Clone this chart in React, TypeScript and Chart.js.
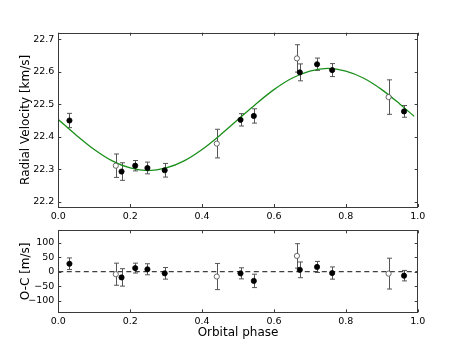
import React, { useEffect, useRef } from "react";
import { Chart, registerables } from "chart.js";
Chart.register(...registerables);

// ---- data ----
const phaseTicks = [0, 0.2, 0.4, 0.6, 0.8, 1.0];
const rvTicks = [22.2, 22.3, 22.4, 22.5, 22.6, 22.7];
const ocTicks = [-100, -50, 0, 50, 100];

const phaseFilled = [0.031, 0.176, 0.214, 0.248, 0.296, 0.507, 0.544, 0.672, 0.72, 0.762, 0.962];
const rvFilled = [22.45, 22.293, 22.311, 22.304, 22.297, 22.452, 22.464, 22.598, 22.623, 22.605, 22.478];
const rvFilledErr = [0.022, 0.027, 0.016, 0.018, 0.021, 0.019, 0.022, 0.026, 0.019, 0.02, 0.018];
const ocFilled = [27, -20, 12, 8, -6, -6, -32, 6, 16, -5, -14];
const ocFilledErr = [20, 30, 17, 19, 20, 19, 23, 27, 19, 21, 18];

const phaseOpen = [0.16, 0.441, 0.664, 0.919];
const rvOpen = [22.311, 22.379, 22.641, 22.522];
const rvOpenErr = [0.036, 0.044, 0.042, 0.053];
const ocOpen = [-9, -17, 54, -7];
const ocOpenErr = [38, 45, 42, 53];

const modelPhase = [0, 0.05, 0.1, 0.15, 0.2, 0.25, 0.3, 0.35, 0.4, 0.45, 0.5, 0.55, 0.6, 0.65, 0.7, 0.75, 0.8, 0.85, 0.9, 0.95, 0.99];
const modelRv = [22.453, 22.405, 22.361, 22.326, 22.304, 22.296, 22.304, 22.326, 22.361, 22.405, 22.453, 22.501, 22.545, 22.58, 22.602, 22.61, 22.602, 22.58, 22.545, 22.501, 22.463];

const zeroPhase = [0, 1];
const zeroOc = [0, 0];

const rvRange = [22.184, 22.72];
const ocRange = [-140, 142];

const FONT = "'DejaVu Sans', 'Liberation Sans', sans-serif";

const pts = (xs: number[], ys: number[]) => xs.map((x, i) => ({ x, y: ys[i] }));

const errorBarPlugin = {
  id: "errorBars",
  beforeDatasetsDraw(chart: any) {
    const ctx = chart.ctx;
    const xs = chart.scales.x;
    const ys = chart.scales.y;
    chart.data.datasets.forEach((ds: any) => {
      const errs = ds.errors;
      if (!errs) return;
      ctx.save();
      ctx.strokeStyle = "#555";
      ctx.lineWidth = 1;
      ds.data.forEach((p: any, j: number) => {
        const x = Math.round(xs.getPixelForValue(p.x)) + 0.5;
        const y1 = ys.getPixelForValue(p.y + errs[j]);
        const y2 = ys.getPixelForValue(p.y - errs[j]);
        ctx.beginPath();
        ctx.moveTo(x, y1);
        ctx.lineTo(x, y2);
        ctx.moveTo(x - 2.5, y1);
        ctx.lineTo(x + 2.5, y1);
        ctx.moveTo(x - 2.5, y2);
        ctx.lineTo(x + 2.5, y2);
        ctx.stroke();
      });
      ctx.restore();
    });
  },
};

const framePlugin = {
  id: "frame",
  afterDatasetsDraw(chart: any) {
    const { ctx, chartArea: a, scales } = chart;
    ctx.save();
    ctx.strokeStyle = "#3a3a3a";
    ctx.lineWidth = 1;
    const L = 3;
    ctx.beginPath();
    scales.x.ticks.forEach((t: any) => {
      const x = Math.round(scales.x.getPixelForValue(t.value)) + 0.5;
      ctx.moveTo(x, a.bottom);
      ctx.lineTo(x, a.bottom - L);
      ctx.moveTo(x, a.top);
      ctx.lineTo(x, a.top + L);
    });
    scales.y.ticks.forEach((t: any) => {
      const y = Math.round(scales.y.getPixelForValue(t.value)) + 0.5;
      ctx.moveTo(a.left, y);
      ctx.lineTo(a.left + L, y);
      ctx.moveTo(a.right, y);
      ctx.lineTo(a.right - L, y);
    });
    ctx.stroke();
    ctx.strokeRect(Math.round(a.left) + 0.5, Math.round(a.top) + 0.5, Math.round(a.right - a.left), Math.round(a.bottom - a.top));
    ctx.restore();
  },
};

function xScale(showTitle: boolean, height: number) {
  return {
    type: "linear",
    min: 0,
    max: 1,
    afterBuildTicks: (s: any) => {
      s.ticks = phaseTicks.map((v) => ({ value: v }));
    },
    afterFit: (s: any) => {
      s.height = height;
    },
    grid: { display: false, drawTicks: false },
    border: { display: false },
    ticks: {
      color: "#000",
      font: { family: FONT, size: 9.5 },
      padding: 4,
      maxRotation: 0,
      autoSkip: false,
      callback: (v: any) => Number(v).toFixed(1),
    },
    title: {
      display: showTitle,
      text: "Orbital phase",
      color: "#000",
      font: { family: FONT, size: 12 },
      padding: { top: 0, bottom: 9 },
    },
  };
}

function yScale(title: string, range: number[], tickVals: number[], fmt: (v: number) => string) {
  return {
    type: "linear",
    min: range[0],
    max: range[1],
    afterBuildTicks: (s: any) => {
      s.ticks = tickVals.map((v) => ({ value: v }));
    },
    afterFit: (s: any) => {
      s.width = 58.3;
    },
    grid: { display: false, drawTicks: false },
    border: { display: false },
    ticks: {
      color: "#000",
      font: { family: FONT, size: 9.5 },
      padding: 4,
      autoSkip: false,
      callback: (v: any) => fmt(Number(v)),
    },
    title: {
      display: true,
      text: title,
      color: "#000",
      font: { family: FONT, size: 12 },
      padding: { top: 18.5, bottom: 0 },
    },
  };
}

const filledStyle = {
  showLine: false,
  pointRadius: 2.6,
  pointBackgroundColor: "#000",
  pointBorderColor: "#000",
  pointBorderWidth: 0.8,
};
const openStyle = {
  showLine: false,
  pointRadius: 2.6,
  pointBackgroundColor: "#fff",
  pointBorderColor: "#444",
  pointBorderWidth: 0.8,
};

export default function App() {
  const topRef = useRef<HTMLCanvasElement | null>(null);
  const botRef = useRef<HTMLCanvasElement | null>(null);

  useEffect(() => {
    Chart.defaults.font.family = FONT;
    const top = new Chart(topRef.current as HTMLCanvasElement, {
      type: "scatter",
      data: {
        datasets: [
          { ...filledStyle, data: pts(phaseFilled, rvFilled), errors: rvFilledErr } as any,
          { ...openStyle, data: pts(phaseOpen, rvOpen), errors: rvOpenErr } as any,
          {
            data: pts(modelPhase, modelRv),
            showLine: true,
            borderColor: "#1a8f1a",
            borderWidth: 1.3,
            pointRadius: 0,
            cubicInterpolationMode: "monotone",
          } as any,
        ],
      },
      options: {
        responsive: false,
        animation: false,
        events: [],
        layout: { padding: { top: 32.7, right: 44.3, bottom: 0, left: 0 } },
        plugins: { legend: { display: false }, tooltip: { enabled: false } },
        scales: {
          x: xScale(false, 13),
          y: yScale("Radial Velocity [km/s]", rvRange, rvTicks, (v) => v.toFixed(1)),
        } as any,
      },
      plugins: [errorBarPlugin, framePlugin],
    });

    const bot = new Chart(botRef.current as HTMLCanvasElement, {
      type: "scatter",
      data: {
        datasets: [
          { ...filledStyle, data: pts(phaseFilled, ocFilled), errors: ocFilledErr } as any,
          { ...openStyle, data: pts(phaseOpen, ocOpen), errors: ocOpenErr } as any,
          {
            data: pts(zeroPhase, zeroOc),
            showLine: true,
            borderColor: "#404040",
            borderWidth: 1.3,
            borderDash: [5, 3.5],
            pointRadius: 0,
          } as any,
        ],
      },
      options: {
        responsive: false,
        animation: false,
        events: [],
        layout: { padding: { top: 10.3, right: 44.3, bottom: 0, left: 0 } },
        plugins: { legend: { display: false }, tooltip: { enabled: false } },
        scales: {
          x: xScale(true, 36.7),
          y: yScale("O-C [m/s]", ocRange, ocTicks, (v) => (v < 0 ? "\u2212" + Math.abs(v) : String(v))),
        } as any,
      },
      plugins: [errorBarPlugin, framePlugin],
    });

    return () => {
      top.destroy();
      bot.destroy();
    };
  }, []);

  return (
    <div style={{ position: "fixed", left: 0, top: 0, width: 462, height: 349, background: "#fff" }}>
      <canvas ref={topRef} width={462} height={220} style={{ position: "absolute", left: 0, top: 0, width: 462, height: 220 }} />
      <canvas ref={botRef} width={462} height={129} style={{ position: "absolute", left: 0, top: 220, width: 462, height: 129 }} />
    </div>
  );
}
